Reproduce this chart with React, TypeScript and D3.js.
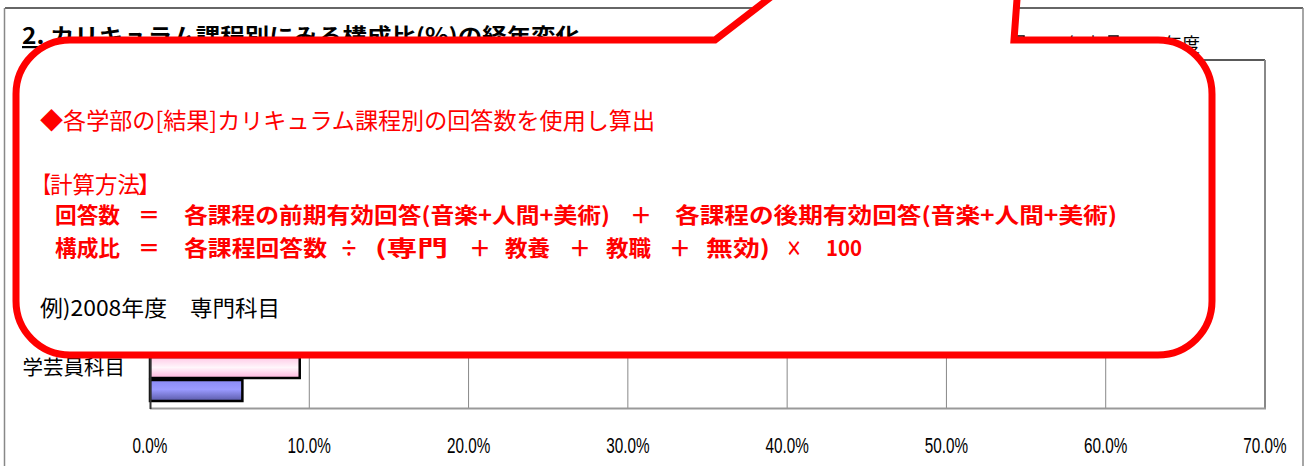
import React from "react";
import * as d3 from "d3";

const categories = ["専門科目", "教養科目", "教職科目", "司書科目", "無効", "学芸員科目"];
const series = ["2007年度", "2008年度"];
const values2007 = [44.0, 30.0, 11.0, 3.0, 1.5, 9.4];
const values2008 = [46.0, 31.0, 12.0, 2.5, 1.2, 5.8];
const tickValues = [0, 0.1, 0.2, 0.3, 0.4, 0.5, 0.6, 0.7];

const W = 1305;
const H = 466;
const RED = "#ff0000";
const JP = "'Noto Sans CJK JP', 'Noto Sans', sans-serif";
const NARROW = "'Liberation Sans', Arial, sans-serif";

// callout text segments: [text, x, width]
const line2: [string, number, number][] = [
  ["【", 33, 18],
  ["計算方法", 50, 90],
  ["】", 138, 23],
];
const line3: [string, number, number][] = [
  ["回答数", 55, 65],
  ["＝", 138, 22],
  ["各課程の前期有効回答(音楽+人間+美術)", 184, 426],
  ["＋", 630, 22],
  ["各課程の後期有効回答(音楽+人間+美術)", 675, 442],
];
const line4: [string, number, number][] = [
  ["構成比", 55, 65],
  ["＝", 138, 22],
  ["各課程回答数", 184, 143],
  ["÷", 340, 18],
  ["(専門", 375, 73],
  ["＋", 469, 22],
  ["教養", 505, 45],
  ["＋", 569, 22],
  ["教職", 606, 45],
  ["＋", 669, 22],
  ["無効)", 706, 64],
  ["×", 786, 16],
  ["100", 826, 36],
];

export default function App() {
  const x = d3.scaleLinear().domain([0, 0.7]).range([150, 1265]);
  const y = d3
    .scaleBand<string>()
    .domain(categories)
    .range([60, 408])
    .paddingInner(0.207)
    .paddingOuter(0.1035);
  const ys = d3.scaleBand<string>().domain(series).range([0, y.bandwidth()]);
  const data = categories.map((c, i) => ({ c, v: [values2007[i], values2008[i]] }));
  const fmt = d3.format(".1%");

  const L = 16, T = 40, R = 1212, B = 355, r = 54;
  const callout = [
    `M ${L + r},${T}`,
    `L 715,${T}`,
    `L 1032,-204`,
    `L 1014,${T}`,
    `L ${R - r},${T}`,
    `A ${r} ${r} 0 0 1 ${R},${T + r}`,
    `L ${R},${B - r}`,
    `A ${r} ${r} 0 0 1 ${R - r},${B}`,
    `L ${L + r},${B}`,
    `A ${r} ${r} 0 0 1 ${L},${B - r}`,
    `L ${L},${T + r}`,
    `A ${r} ${r} 0 0 1 ${L + r},${T}`,
    "Z",
  ].join(" ");

  return (
    <svg
      width={W}
      height={H}
      style={{ position: "absolute", left: 0, top: 0, background: "#fff" }}
    >
      <defs>
        <linearGradient id="gPink" x1="0" y1="0" x2="0" y2="1">
          <stop offset="0%" stopColor="#ffc8e6" />
          <stop offset="50%" stopColor="#fff6fb" />
          <stop offset="100%" stopColor="#ffb4dc" />
        </linearGradient>
        <linearGradient id="gBlue" x1="0" y1="0" x2="0" y2="1">
          <stop offset="0%" stopColor="#8a8af6" />
          <stop offset="45%" stopColor="#9a9aff" />
          <stop offset="100%" stopColor="#5a5aa8" />
        </linearGradient>
      </defs>

      {/* chart area frame */}
      <line x1={5} y1={8} x2={1303} y2={8} stroke="#333" strokeWidth={1.5} />
      <line x1={4.5} y1={8} x2={4.5} y2={H} stroke="#888" strokeWidth={1.5} />
      <line x1={1303} y1={8} x2={1303} y2={H} stroke="#888" strokeWidth={1.5} />

      {/* title */}
      <text
        x={22}
        y={44}
        fontFamily={JP}
        fontWeight="bold"
        fontSize={22}
        textLength={558}
        lengthAdjust="spacingAndGlyphs"
        textDecoration="underline"
        fill="#000"
      >
        2. カリキュラム課程別にみる構成比(%)の経年変化
      </text>

      {/* legend */}
      <rect x={1015} y={36} width={9} height={9} fill="url(#gPink)" stroke="#000" strokeWidth={1.5} />
      <text x={1029} y={52} fontFamily={JP} fontSize={19} fill="#000" textLength={72} lengthAdjust="spacingAndGlyphs">{series[0]}</text>
      <rect x={1109} y={36} width={9} height={9} fill="url(#gBlue)" stroke="#000" strokeWidth={1.5} />
      <text x={1124} y={52} fontFamily={JP} fontSize={19} fill="#000" textLength={76} lengthAdjust="spacingAndGlyphs">{series[1]}</text>

      {/* plot area */}
      <line x1={150} y1={60} x2={1265} y2={60} stroke="#222" strokeWidth={1.5} />
      {tickValues.slice(1, -1).map((t) => (
        <line key={t} x1={x(t)} y1={60} x2={x(t)} y2={408} stroke="#888" strokeWidth={1} />
      ))}
      <line x1={1265} y1={60} x2={1265} y2={409} stroke="#888" strokeWidth={2} />
      <line x1={150} y1={408.5} x2={1266} y2={408.5} stroke="#999" strokeWidth={2} />

      {/* bars */}
      {data.map((d) => (
        <g key={d.c} transform={`translate(0,${y(d.c)})`}>
          {d.v.map((v, j) => (
            <rect
              key={j}
              x={x(0)}
              y={ys(series[j])! + 1}
              width={x(v / 100) - x(0)}
              height={ys.bandwidth() - 2}
              fill={j === 0 ? "url(#gPink)" : "url(#gBlue)"}
              stroke="#000"
              strokeWidth={2.5}
            />
          ))}
        </g>
      ))}
      <line x1={150.5} y1={60} x2={150.5} y2={409} stroke="#333" strokeWidth={2} />

      {/* category labels */}
      {categories.map((c) => (
        <text
          key={c}
          x={125}
          y={y(c)! + y.bandwidth() / 2 - 4}
          textAnchor="end"
          fontFamily={JP}
          fontSize={20.5}
          fill="#000"
        >
          {c}
        </text>
      ))}

      {/* x tick labels */}
      {tickValues.map((t) => (
        <text
          key={t}
          transform={`translate(${x(t)},453) scale(0.68,1)`}
          textAnchor="middle"
          fontFamily={NARROW}
          fontSize={22.5}
          fill="#000"
        >
          {fmt(t)}
        </text>
      ))}

      {/* callout */}
      <path d={callout} fill="#fff" stroke={RED} strokeWidth={7} strokeLinejoin="miter" />

      <text x={40} y={129} fontFamily={JP} fontSize={23} fill={RED} textLength={615} lengthAdjust="spacingAndGlyphs">
        ◆各学部の[結果]カリキュラム課程別の回答数を使用し算出
      </text>
      {line2.map(([s, sx, sw], i) => (
        <text key={"c" + i} x={sx} y={193} fontFamily={JP} fontSize={23} fill={RED} textLength={sw} lengthAdjust="spacingAndGlyphs">
          {s}
        </text>
      ))}
      {line3.map(([s, sx, sw], i) => (
        <text key={"a" + i} x={sx} y={223} fontFamily={JP} fontWeight="bold" fontSize={21.5} fill={RED} textLength={sw} lengthAdjust="spacingAndGlyphs">
          {s}
        </text>
      ))}
      {line4.map(([s, sx, sw], i) => (
        <text key={"b" + i} x={sx} y={256} fontFamily={JP} fontWeight="bold" fontSize={21.5} fill={RED} textLength={sw} lengthAdjust="spacingAndGlyphs">
          {s}
        </text>
      ))}
      <text x={40} y={316} fontFamily={JP} fontSize={22} fill="#000" textLength={127} lengthAdjust="spacingAndGlyphs">
        例)2008年度
      </text>
      <text x={190} y={316} fontFamily={JP} fontSize={22} fill="#000" textLength={90} lengthAdjust="spacingAndGlyphs">
        専門科目
      </text>
    </svg>
  );
}
